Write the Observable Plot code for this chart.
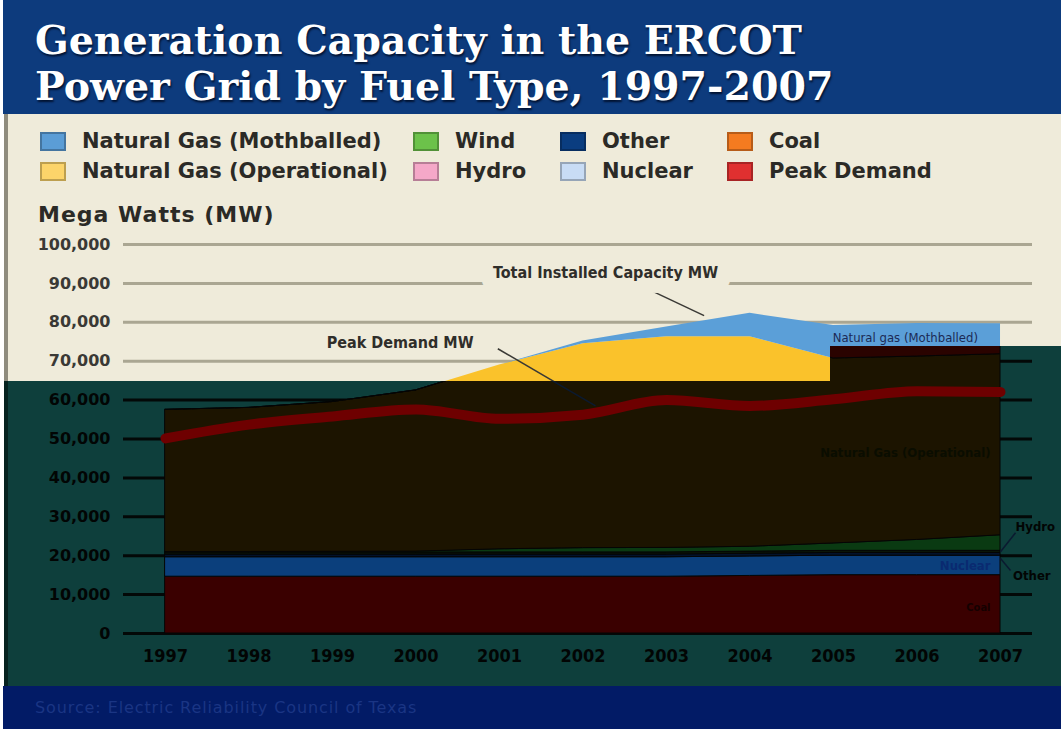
<!DOCTYPE html>
<html><head><meta charset="utf-8">
<script src="https://cdn.jsdelivr.net/npm/d3@7"></script>
<script src="https://cdn.jsdelivr.net/npm/@observablehq/plot@0.6"></script>
<style>
body{margin:0;background:#fff;}
#page{position:relative;width:1061px;height:729px;overflow:hidden;background:#fff;font-family:"DejaVu Sans",sans-serif;}
#titleband{position:absolute;left:3px;top:0;width:1058px;height:114px;background:#0d3b7d;}
.tline{position:absolute;left:35px;color:#fff;font-family:"DejaVu Serif",serif;font-weight:bold;font-size:39.5px;line-height:46px;height:46px;white-space:nowrap;text-shadow:1px 2px 2px #021230;}
#cream{position:absolute;left:4px;top:114px;width:1057px;height:572px;background:#efebda;border-left:4px solid #8f8c7e;box-sizing:border-box;}
#darkedge{position:absolute;left:4px;top:381px;width:4px;height:305px;background:#06221f;}
#footer{position:absolute;left:3px;top:686px;width:1058px;height:43px;background:#021b66;}
#source{position:absolute;left:35px;top:698px;color:#1a3584;font-family:"DejaVu Sans",sans-serif;font-size:16px;letter-spacing:0.9px;white-space:nowrap;}
.sw{position:absolute;width:26px;height:19px;box-sizing:border-box;border:2px solid rgba(0,0,0,0.25);}
.lt{position:absolute;font-weight:bold;font-size:21px;color:#2b2a26;white-space:nowrap;line-height:21px;}
#ylabel{position:absolute;left:38px;top:202px;font-weight:bold;font-size:22px;letter-spacing:1px;color:#2b2a26;white-space:nowrap;}
.layer{position:absolute;left:0;top:230px;width:1061px;height:456px;}
#corrupt{clip-path:polygon(8px 151px,830px 151px,830px 116px,1061px 116px,1061px 456px,8px 456px);}
</style></head>
<body>
<div id="page">
  <div id="titleband"></div>
  <div class="tline" style="top:17px">Generation Capacity in the ERCOT</div>
  <div class="tline" style="top:63px">Power Grid by Fuel Type, 1997-2007</div>
  <div id="cream"></div>
  <div id="legend"></div>
  <div id="ylabel">Mega Watts (MW)</div>
  <div id="normal" class="layer"></div>
  <div id="corrupt" class="layer"></div>
  <div id="darkedge"></div>
  <div id="footer"></div>
  <div id="source">Source: Electric Reliability Council of Texas</div>
</div>
<script>
// ---------- data ----------
const years = [1997,1998,1999,2000,2001,2002,2003,2004,2005,2006,2007];
const coal = [14600,14600,14600,14600,14600,14600,14600,14800,15000,15000,15000];
const nuclear = [5000,5000,5000,5000,5000,5000,5000,5000,5000,5000,5000];
const other = [700,700,700,700,700,700,700,700,700,700,700];
const hydro = [550,550,550,550,550,550,550,550,550,550,550];
const wind = [100,100,150,200,800,1100,1150,1250,1900,2800,4000];
const gasOperational = [36550,37050,38500,41450,47350,52550,54300,54000,47550,47150,46550];
const gasMothballed = [0,0,0,0,0,700,2500,6000,8500,8500,7800];
const peakDemand = [50150,53700,55800,57600,55200,56250,60000,58500,60200,62300,62100];
const yTicks = [0,10000,20000,30000,40000,50000,60000,70000,80000,90000,100000];

const stackOrder = ["Coal","Nuclear","Other","Hydro","Wind","Natural Gas (Operational)","Natural Gas (Mothballed)"];
const stackValues = [coal, nuclear, other, hydro, wind, gasOperational, gasMothballed];

// legend (reference order, two rows x four columns)
const legendNames = ["Natural Gas (Mothballed)","Wind","Other","Coal","Natural Gas (Operational)","Hydro","Nuclear","Peak Demand"];
const legendColors = ["#5b9dd6","#6cc24a","#0a3d80","#f47b20","#fcd46a","#f5a8c8","#c8dcf5","#e03030"];

// annotation labels (year, MW)
const labels = [
  {text:"Total Installed Capacity MW", year:2002.27, mw:92800, size:16, weight:"bold", anchor:"middle", kind:"main", halo:true},
  {text:"Peak Demand MW", year:1999.81, mw:74800, size:16, weight:"bold", anchor:"middle", kind:"main", halo:false},
  {text:"Natural gas (Mothballed)", year:2005.86, mw:76100, size:13, weight:"normal", anchor:"middle", kind:"small", halo:false},
  {text:"Natural Gas (Operational)", year:2005.86, mw:46500, size:13, weight:"bold", anchor:"middle", kind:"dim", halo:false},
  {text:"Hydro", year:2007.18, mw:27300, size:13, weight:"bold", anchor:"start", kind:"side", halo:false},
  {text:"Other", year:2007.15, mw:14700, size:13, weight:"bold", anchor:"start", kind:"side", halo:false},
  {text:"Nuclear", year:2006.88, mw:17400, size:13, weight:"bold", anchor:"end", kind:"nuke", halo:false},
  {text:"Coal", year:2006.88, mw:6800, size:11, weight:"bold", anchor:"end", kind:"coal", halo:false}
];
const leaders = [
  {x1:2002.81, y1:88200, x2:2003.45, y2:81700},
  {x1:2000.98, y1:73200, x2:2002.15, y2:58500},
  {x1:2007.0, y1:21000, x2:2007.18, y2:25900},
  {x1:2007.0, y1:19300, x2:2007.12, y2:16200}
];

// ---------- tables ----------
const stacked = stackOrder.flatMap((s, i) => years.map((y, j) => ({series:s, year:y, value:stackValues[i][j]})));
const peak = years.map((y, j) => ({year:y, value:peakDemand[j]}));

// ---------- legend ----------
const legend = document.getElementById("legend");
const colX = [40,413,560,727], rowY = [132,162];
legendNames.forEach((n, i) => {
  const c = i % 4, r = Math.floor(i / 4);
  const sw = document.createElement("div");
  sw.className = "sw"; sw.style.left = colX[c] + "px"; sw.style.top = rowY[r] + "px"; sw.style.background = legendColors[i];
  legend.appendChild(sw);
  const t = document.createElement("div");
  t.className = "lt"; t.textContent = n; t.style.left = (colX[c] + 42) + "px"; t.style.top = (rowY[r] - 1) + "px";
  legend.appendChild(t);
});

// ---------- chart ----------
const palettes = {
  normal: {bg:"transparent", fills:["#f47b20","#c8dcf5","#0a3d80","#f5a8c8","#6cc24a","#fac22b","#5b9fd8"], areaStroke:"none",
           grid:"#aaa692", text:"#3a3935", peak:"#e0302a", lead:"#3a3935", halo:"#efebda",
           kinds:{main:"#2f2e2a", small:"#1c2a55", dim:"#3a3935", side:"#2f2e2a", nuke:"#0a2a70", coal:"#2f2e2a"}},
  corrupt: {bg:"#0e3f3c", fills:["#3a0000","#0b3f7c","#02122a","#0b1608","#0a3a12","#1c1400","#2a0300"], areaStroke:"#050505",
           grid:"#030807", text:"#020504", peak:"#6e0000", lead:"#0b1a30", halo:"none",
           kinds:{main:"#020504", small:"#020504", dim:"#0a0d00", side:"#020504", nuke:"#0a2a70", coal:"#150000"}}
};

function makeChart(p) {
  return Plot.plot({
    width: 1061, height: 456,
    marginLeft: 123, marginRight: 29, marginTop: 14, marginBottom: 53,
    x: {domain: [1996.497, 2007.383], axis: null},
    y: {domain: [0, 100000], axis: null},
    color: {domain: stackOrder, range: p.fills},
    style: {background: p.bg, fontFamily: "DejaVu Sans, sans-serif", overflow: "visible"},
    marks: [
      Plot.ruleY(yTicks, {stroke: p.grid, strokeWidth: 3}),
      Plot.areaY(stacked, Plot.stackY({x: "year", y: "value", z: "series", fill: "series", order: stackOrder,
        stroke: p.areaStroke, strokeWidth: 1})),
      Plot.line(peak, {x: "year", y: "value", stroke: p.peak, strokeWidth: 10, curve: "monotone-x", strokeLinecap: "round"}),
      Plot.link(leaders, {x1: "x1", y1: "y1", x2: "x2", y2: "y2", stroke: p.lead, strokeWidth: 1.5}),
      Plot.axisY({ticks: yTicks, tickFormat: d3.format(","), tickSize: 0, tickPadding: 13,
        fontSize: 16, fontWeight: "bold", fill: p.text}),
      Plot.axisX({ticks: years, tickFormat: d => String(d), tickSize: 0, tickPadding: 16,
        fontSize: 18, fontWeight: "bold", fontFamily: "DejaVu Sans Condensed", fill: p.text}),
      ...labels.map(l => Plot.text([l], {x: "year", y: "mw", text: "text", fontSize: l.size, fontWeight: l.weight,
        fontFamily: "DejaVu Sans Condensed", textAnchor: l.anchor, fill: p.kinds[l.kind],
        stroke: (l.halo ? p.halo : "none"), strokeWidth: 30, paintOrder: "stroke"}))
    ]
  });
}

document.getElementById("normal").appendChild(makeChart(palettes.normal));
document.getElementById("corrupt").appendChild(makeChart(palettes.corrupt));
</script>
</body></html>
